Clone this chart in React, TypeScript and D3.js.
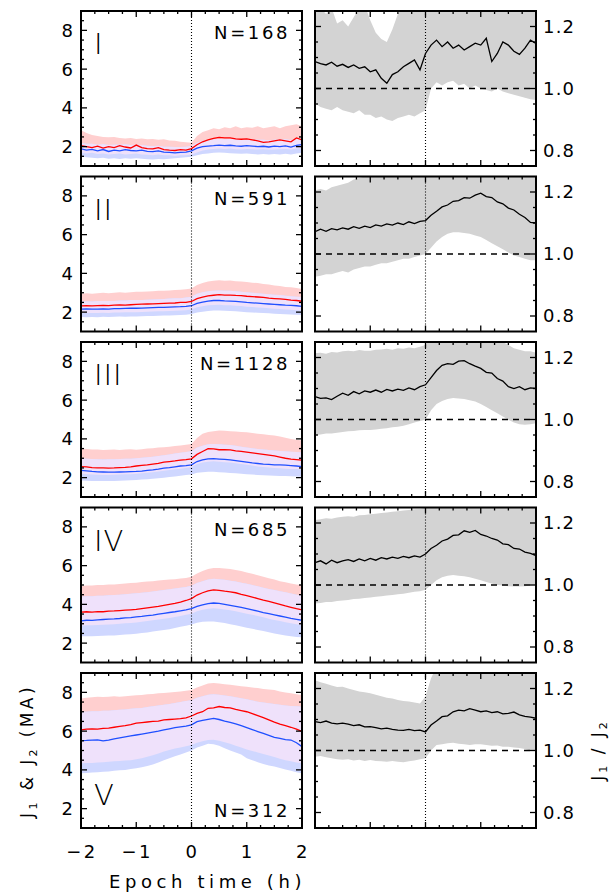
import React from 'react';
import * as d3 from 'd3';

// time axis (hours), 0.1 h steps from -2 to 2
const times = d3.range(41).map((i) => -2 + i * 0.1);
const panelLabels = ['I', 'II', 'III', 'IV', 'V'];
const panelCounts = [168, 591, 1128, 685, 312];
const xTickLabels = ['\u22122', '\u22121', '0', '1', '2'];
const xTickValues = [-2, -1, 0, 1, 2];
const jTickValues = [2, 4, 6, 8];
const rTickValues = [0.8, 1.0, 1.2];
const rTickLabels = ['0.8', '1.0', '1.2'];

// ---------- Panel I ----------
const j1_I = [2.05,2.0,1.95,2.02,1.92,2.0,1.95,2.05,1.98,1.93,2.08,1.95,1.9,1.88,1.95,1.85,1.82,1.8,1.85,1.82,1.9,2.1,2.25,2.35,2.42,2.48,2.45,2.45,2.4,2.38,2.4,2.35,2.3,2.22,2.25,2.3,2.35,2.3,2.25,2.45,2.35];
const j2_I = [1.88,1.82,1.86,1.78,1.85,1.75,1.82,1.78,1.84,1.8,1.78,1.82,1.76,1.74,1.78,1.72,1.7,1.68,1.7,1.72,1.78,1.92,2.0,2.03,2.05,2.08,2.05,2.07,2.04,2.02,2.05,2.03,2.0,2.02,1.98,2.03,2.0,2.04,1.98,2.06,2.1];
const j1Hi_I = [2.85,2.7,2.6,2.55,2.5,2.48,2.5,2.45,2.42,2.45,2.4,2.42,2.38,2.4,2.35,2.38,2.32,2.3,2.25,2.22,2.2,2.55,2.75,2.85,2.95,2.9,3.0,2.95,3.05,2.95,3.0,2.98,3.05,2.95,3.0,3.05,2.95,3.05,3.1,3.15,3.05];
const j1Lo_I = [1.7,1.65,1.68,1.62,1.65,1.6,1.62,1.65,1.6,1.62,1.65,1.6,1.58,1.55,1.6,1.55,1.55,1.52,1.55,1.55,1.6,1.7,1.8,1.85,1.88,1.9,1.88,1.9,1.87,1.85,1.88,1.86,1.85,1.87,1.84,1.85,1.86,1.88,1.85,1.9,1.92];
const j2Hi_I = [2.2,2.15,2.15,2.1,2.12,2.08,2.1,2.1,2.12,2.08,2.1,2.08,2.05,2.02,2.05,2.0,2.0,1.98,1.98,2.0,2.05,2.2,2.3,2.35,2.38,2.4,2.38,2.4,2.38,2.35,2.38,2.36,2.35,2.36,2.33,2.35,2.35,2.38,2.34,2.4,2.42];
const j2Lo_I = [1.5,1.45,1.42,1.4,1.42,1.38,1.4,1.36,1.4,1.38,1.4,1.37,1.35,1.33,1.36,1.35,1.38,1.4,1.42,1.45,1.48,1.55,1.62,1.65,1.68,1.7,1.68,1.66,1.65,1.63,1.65,1.62,1.6,1.62,1.6,1.62,1.6,1.63,1.6,1.65,1.68];
const ratio_I = [1.087,1.08,1.076,1.085,1.072,1.078,1.068,1.076,1.065,1.07,1.054,1.06,1.033,1.017,1.045,1.054,1.07,1.081,1.092,1.06,1.113,1.14,1.156,1.135,1.15,1.13,1.14,1.124,1.135,1.146,1.14,1.162,1.087,1.113,1.15,1.14,1.12,1.11,1.13,1.156,1.145];
const ratioHi_I = [1.27,1.26,1.24,1.26,1.21,1.22,1.2,1.23,1.26,1.27,1.22,1.18,1.16,1.15,1.19,1.24,1.27,1.26,1.27,1.28,1.28,1.28,1.28,1.28,1.28,1.28,1.28,1.28,1.28,1.28,1.28,1.28,1.28,1.28,1.28,1.28,1.28,1.28,1.28,1.28,1.28];
const ratioLo_I = [0.952,0.94,0.935,0.93,0.94,0.93,0.925,0.92,0.93,0.915,0.915,0.905,0.91,0.9,0.895,0.905,0.91,0.915,0.91,0.92,0.93,1.0,1.02,1.01,1.02,1.025,1.01,1.015,1.0,1.01,1.0,0.995,0.99,1.0,0.99,0.985,0.98,0.975,0.97,0.965,0.963];

// ---------- Panel II ----------
const j1_II = [2.32,2.33,2.32,2.34,2.35,2.34,2.36,2.37,2.36,2.38,2.4,2.41,2.42,2.43,2.44,2.45,2.46,2.47,2.5,2.5,2.55,2.7,2.78,2.84,2.87,2.9,2.88,2.88,2.86,2.85,2.82,2.8,2.78,2.76,2.72,2.7,2.68,2.66,2.62,2.6,2.56];
const j2_II = [2.15,2.16,2.15,2.16,2.17,2.16,2.18,2.18,2.19,2.2,2.2,2.21,2.22,2.23,2.24,2.25,2.26,2.27,2.28,2.3,2.33,2.45,2.52,2.57,2.6,2.6,2.58,2.57,2.55,2.53,2.5,2.48,2.46,2.44,2.42,2.4,2.38,2.36,2.35,2.33,2.3];
const j1Hi_II = [2.95,2.97,2.95,2.98,3.0,2.98,3.0,3.02,3.0,3.03,3.05,3.05,3.07,3.08,3.1,3.1,3.12,3.14,3.15,3.18,3.22,3.4,3.5,3.58,3.62,3.65,3.62,3.63,3.6,3.58,3.55,3.52,3.5,3.45,3.42,3.38,3.35,3.3,3.28,3.25,3.2];
const j1Lo_II = [1.95,1.96,1.95,1.96,1.97,1.96,1.98,1.98,1.99,2.0,2.0,2.01,2.02,2.03,2.04,2.05,2.06,2.07,2.08,2.1,2.13,2.25,2.3,2.35,2.37,2.38,2.36,2.35,2.33,2.31,2.28,2.26,2.24,2.22,2.2,2.18,2.16,2.14,2.12,2.1,2.08];
const j2Hi_II = [2.55,2.56,2.55,2.57,2.58,2.57,2.58,2.6,2.6,2.62,2.62,2.63,2.64,2.65,2.66,2.68,2.7,2.71,2.72,2.75,2.8,2.95,3.02,3.08,3.1,3.12,3.1,3.1,3.08,3.05,3.02,3.0,2.98,2.95,2.92,2.9,2.88,2.85,2.82,2.8,2.78];
const j2Lo_II = [1.75,1.74,1.75,1.74,1.76,1.75,1.76,1.77,1.76,1.78,1.78,1.79,1.8,1.8,1.81,1.82,1.83,1.84,1.85,1.86,1.9,1.98,2.02,2.06,2.08,2.08,2.07,2.06,2.04,2.02,2.0,1.98,1.97,1.95,1.94,1.92,1.9,1.89,1.88,1.86,1.85];
const ratio_II = [1.072,1.08,1.073,1.082,1.078,1.084,1.08,1.088,1.083,1.09,1.085,1.094,1.09,1.097,1.093,1.1,1.095,1.104,1.098,1.105,1.108,1.125,1.138,1.152,1.158,1.17,1.172,1.182,1.18,1.19,1.196,1.185,1.182,1.168,1.162,1.148,1.142,1.128,1.118,1.102,1.1];
const ratioHi_II = [1.206,1.21,1.205,1.215,1.22,1.225,1.23,1.24,1.245,1.25,1.26,1.27,1.27,1.27,1.27,1.27,1.27,1.27,1.27,1.27,1.27,1.27,1.27,1.27,1.27,1.27,1.27,1.27,1.27,1.27,1.27,1.27,1.27,1.27,1.27,1.27,1.27,1.27,1.27,1.27,1.27];
const ratioLo_II = [0.927,0.93,0.935,0.935,0.94,0.945,0.94,0.95,0.955,0.96,0.96,0.965,0.97,0.97,0.975,0.98,0.985,0.985,0.99,0.995,1.0,1.02,1.04,1.055,1.065,1.07,1.07,1.068,1.065,1.06,1.055,1.045,1.035,1.025,1.015,1.005,0.995,0.99,0.985,0.98,0.98];

// ---------- Panel III ----------
const j1_III = [2.57,2.55,2.52,2.5,2.5,2.49,2.5,2.52,2.53,2.55,2.6,2.63,2.66,2.7,2.73,2.8,2.83,2.86,2.9,2.93,2.97,3.2,3.35,3.49,3.48,3.44,3.45,3.43,3.38,3.35,3.32,3.28,3.24,3.2,3.16,3.12,3.06,3.0,2.96,2.93,2.9];
const j2_III = [2.37,2.35,2.32,2.3,2.29,2.28,2.28,2.29,2.3,2.31,2.32,2.34,2.37,2.4,2.44,2.49,2.52,2.56,2.6,2.62,2.66,2.83,2.92,2.97,2.98,2.96,2.94,2.92,2.88,2.84,2.8,2.76,2.73,2.7,2.68,2.66,2.66,2.64,2.62,2.6,2.57];
const j1Hi_III = [3.5,3.48,3.45,3.45,3.43,3.44,3.45,3.43,3.45,3.46,3.44,3.47,3.5,3.52,3.55,3.57,3.6,3.63,3.66,3.7,3.74,4.05,4.26,4.35,4.4,4.43,4.42,4.4,4.38,4.36,4.34,4.3,4.27,4.24,4.2,4.17,4.12,4.06,4.0,3.96,3.92];
const j1Lo_III = [2.2,2.18,2.16,2.15,2.14,2.14,2.15,2.16,2.17,2.18,2.2,2.22,2.25,2.28,2.32,2.36,2.4,2.43,2.46,2.5,2.55,2.7,2.78,2.82,2.84,2.82,2.8,2.78,2.74,2.7,2.66,2.62,2.58,2.55,2.52,2.5,2.48,2.46,2.45,2.44,2.42];
const j2Hi_III = [3.0,2.98,2.96,2.95,2.94,2.95,2.95,2.96,2.97,2.98,3.0,3.02,3.05,3.08,3.12,3.16,3.2,3.24,3.28,3.32,3.36,3.55,3.65,3.72,3.74,3.72,3.7,3.68,3.64,3.6,3.56,3.52,3.48,3.45,3.42,3.4,3.38,3.36,3.34,3.32,3.3];
const j2Lo_III = [1.85,1.84,1.83,1.82,1.82,1.82,1.83,1.84,1.85,1.86,1.88,1.9,1.92,1.94,1.97,2.0,2.03,2.06,2.1,2.13,2.16,2.25,2.28,2.3,2.3,2.28,2.26,2.24,2.22,2.2,2.18,2.16,2.14,2.12,2.11,2.1,2.09,2.08,2.07,2.06,2.05];
const ratio_III = [1.074,1.068,1.07,1.064,1.075,1.085,1.078,1.09,1.083,1.092,1.088,1.095,1.088,1.097,1.092,1.098,1.094,1.102,1.096,1.106,1.112,1.135,1.158,1.175,1.18,1.178,1.188,1.19,1.18,1.172,1.165,1.152,1.15,1.132,1.124,1.106,1.1,1.106,1.096,1.102,1.1];
const ratioHi_III = [1.214,1.215,1.212,1.218,1.216,1.22,1.222,1.22,1.224,1.222,1.222,1.225,1.226,1.228,1.225,1.23,1.228,1.232,1.23,1.235,1.24,1.27,1.27,1.27,1.27,1.27,1.27,1.27,1.27,1.27,1.27,1.27,1.27,1.26,1.25,1.24,1.23,1.225,1.22,1.22,1.215];
const ratioLo_III = [0.95,0.952,0.955,0.955,0.957,0.96,0.962,0.963,0.965,0.966,0.966,0.968,0.97,0.972,0.975,0.977,0.98,0.985,0.99,0.995,0.999,1.03,1.05,1.06,1.066,1.069,1.068,1.066,1.062,1.058,1.05,1.04,1.03,1.02,1.01,0.999,0.99,0.985,0.983,0.985,0.988];

// ---------- Panel IV ----------
const j1_IV = [3.6,3.62,3.6,3.63,3.62,3.65,3.66,3.68,3.7,3.72,3.74,3.78,3.82,3.86,3.9,3.95,4.0,4.05,4.12,4.2,4.3,4.48,4.6,4.7,4.75,4.72,4.68,4.65,4.6,4.52,4.45,4.38,4.3,4.22,4.15,4.08,4.0,3.92,3.85,3.78,3.72];
const j2_IV = [3.15,3.18,3.17,3.2,3.22,3.24,3.25,3.27,3.3,3.32,3.35,3.38,3.42,3.45,3.5,3.54,3.58,3.62,3.67,3.72,3.78,3.9,3.98,4.04,4.07,4.05,4.0,3.95,3.9,3.84,3.78,3.72,3.65,3.58,3.52,3.46,3.4,3.34,3.28,3.23,3.18];
const j1Hi_IV = [4.95,4.98,4.97,5.0,5.0,5.02,5.03,5.05,5.08,5.1,5.12,5.15,5.18,5.2,5.23,5.26,5.28,5.3,5.33,5.36,5.42,5.6,5.72,5.82,5.88,5.88,5.85,5.82,5.78,5.72,5.65,5.58,5.5,5.42,5.35,5.28,5.2,5.14,5.08,5.03,5.0];
const j1Lo_IV = [2.9,2.92,2.92,2.94,2.95,2.96,2.98,3.0,3.02,3.04,3.07,3.1,3.14,3.18,3.22,3.26,3.3,3.35,3.4,3.46,3.52,3.65,3.72,3.78,3.8,3.78,3.74,3.7,3.65,3.58,3.52,3.46,3.4,3.33,3.26,3.2,3.14,3.08,3.02,2.97,2.93];
const j2Hi_IV = [4.4,4.42,4.42,4.44,4.45,4.47,4.48,4.5,4.52,4.55,4.57,4.6,4.63,4.66,4.7,4.74,4.78,4.82,4.86,4.9,4.96,5.1,5.2,5.28,5.32,5.3,5.27,5.22,5.18,5.12,5.06,5.0,4.93,4.86,4.8,4.74,4.68,4.62,4.56,4.5,4.46];
const j2Lo_IV = [2.35,2.36,2.35,2.37,2.38,2.4,2.4,2.42,2.44,2.46,2.48,2.52,2.55,2.6,2.64,2.68,2.72,2.78,2.84,2.9,2.96,3.05,3.1,3.12,3.12,3.08,3.04,2.98,2.92,2.86,2.8,2.74,2.68,2.62,2.56,2.5,2.45,2.4,2.36,2.32,2.3];
const ratio_IV = [1.072,1.078,1.068,1.08,1.072,1.078,1.082,1.076,1.084,1.078,1.086,1.08,1.088,1.084,1.09,1.086,1.092,1.088,1.094,1.09,1.1,1.118,1.128,1.142,1.148,1.16,1.162,1.175,1.17,1.176,1.163,1.158,1.15,1.145,1.133,1.13,1.118,1.116,1.106,1.102,1.095];
const ratioHi_IV = [1.21,1.212,1.215,1.214,1.218,1.22,1.222,1.22,1.225,1.226,1.228,1.23,1.232,1.234,1.236,1.238,1.24,1.242,1.244,1.245,1.25,1.27,1.27,1.27,1.27,1.27,1.27,1.27,1.27,1.27,1.27,1.27,1.27,1.27,1.27,1.27,1.27,1.27,1.27,1.27,1.27];
const ratioLo_IV = [0.94,0.942,0.945,0.945,0.948,0.95,0.952,0.955,0.956,0.958,0.96,0.962,0.964,0.966,0.968,0.97,0.972,0.975,0.978,0.98,0.985,1.0,1.015,1.025,1.03,1.032,1.03,1.028,1.025,1.02,1.015,1.01,1.005,1.0,0.998,0.996,0.995,0.995,0.996,0.998,1.0];

// ---------- Panel V ----------
const j1_V = [6.06,6.1,6.12,6.1,6.14,6.15,6.2,6.24,6.28,6.33,6.41,6.44,6.47,6.5,6.52,6.58,6.6,6.62,6.64,6.68,6.78,6.92,7.0,7.18,7.2,7.27,7.22,7.2,7.12,7.06,7.0,6.9,6.8,6.7,6.58,6.46,6.36,6.28,6.2,6.1,5.98];
const j2_V = [5.51,5.52,5.54,5.55,5.5,5.54,5.6,5.65,5.7,5.75,5.8,5.85,5.9,5.95,6.0,6.06,6.12,6.18,6.22,6.26,6.32,6.49,6.55,6.61,6.66,6.6,6.52,6.45,6.38,6.28,6.18,6.08,5.98,5.88,5.78,5.68,5.62,5.56,5.54,5.4,5.2];
const j1Hi_V = [7.69,7.72,7.75,7.78,7.76,7.78,7.8,7.78,7.8,7.82,7.85,7.87,7.9,7.92,7.95,7.97,8.0,8.02,8.05,8.08,8.12,8.25,8.35,8.46,8.48,8.46,8.42,8.4,8.36,8.32,8.29,8.25,8.22,8.18,8.15,8.12,8.05,8.0,7.95,7.9,7.86];
const j1Lo_V = [4.34,4.35,4.36,4.38,4.4,4.42,4.44,4.46,4.48,4.5,4.55,4.6,4.68,4.76,4.85,4.95,5.02,5.1,5.16,5.22,5.28,5.4,5.48,5.54,5.55,5.5,5.42,5.35,5.25,5.15,5.05,4.98,4.9,4.82,4.74,4.66,4.58,4.5,4.44,4.38,4.34];
const j2Hi_V = [7.0,7.0,7.02,7.03,7.05,7.05,7.08,7.1,7.12,7.15,7.18,7.2,7.24,7.28,7.32,7.36,7.4,7.45,7.5,7.55,7.6,7.72,7.8,7.88,7.9,7.88,7.84,7.8,7.75,7.7,7.64,7.58,7.52,7.48,7.44,7.4,7.36,7.32,7.3,7.28,7.26];
const j2Lo_V = [3.82,3.84,3.86,3.88,3.9,3.92,3.95,3.98,4.0,4.04,4.08,4.14,4.2,4.28,4.38,4.5,4.6,4.7,4.8,4.9,5.0,5.15,5.25,5.35,5.32,5.25,5.12,5.0,4.9,4.8,4.6,4.5,4.4,4.3,4.22,4.17,4.1,4.02,3.95,3.88,3.82];
const ratio_V = [1.093,1.09,1.095,1.088,1.086,1.088,1.085,1.08,1.083,1.076,1.077,1.074,1.07,1.072,1.068,1.066,1.065,1.068,1.064,1.066,1.06,1.082,1.095,1.109,1.112,1.125,1.13,1.128,1.135,1.13,1.125,1.128,1.122,1.125,1.118,1.12,1.124,1.115,1.11,1.108,1.104];
const ratioHi_V = [1.227,1.22,1.215,1.21,1.205,1.206,1.2,1.195,1.19,1.188,1.185,1.18,1.175,1.17,1.168,1.163,1.16,1.158,1.155,1.152,1.174,1.233,1.27,1.27,1.27,1.27,1.27,1.27,1.27,1.27,1.27,1.27,1.27,1.27,1.27,1.27,1.27,1.27,1.27,1.27,1.27];
const ratioLo_V = [0.98,0.982,0.978,0.975,0.972,0.97,0.972,0.968,0.97,0.966,0.969,0.966,0.965,0.964,0.966,0.964,0.962,0.965,0.968,0.972,0.975,1.0,1.018,1.02,1.023,1.025,1.022,1.02,1.018,1.02,1.02,1.018,1.015,1.016,1.012,1.012,1.01,1.008,1.005,1.0,1.0];

const panels = [
  { j1: j1_I, j2: j2_I, j1Hi: j1Hi_I, j1Lo: j1Lo_I, j2Hi: j2Hi_I, j2Lo: j2Lo_I, r: ratio_I, rHi: ratioHi_I, rLo: ratioLo_I },
  { j1: j1_II, j2: j2_II, j1Hi: j1Hi_II, j1Lo: j1Lo_II, j2Hi: j2Hi_II, j2Lo: j2Lo_II, r: ratio_II, rHi: ratioHi_II, rLo: ratioLo_II },
  { j1: j1_III, j2: j2_III, j1Hi: j1Hi_III, j1Lo: j1Lo_III, j2Hi: j2Hi_III, j2Lo: j2Lo_III, r: ratio_III, rHi: ratioHi_III, rLo: ratioLo_III },
  { j1: j1_IV, j2: j2_IV, j1Hi: j1Hi_IV, j1Lo: j1Lo_IV, j2Hi: j2Hi_IV, j2Lo: j2Lo_IV, r: ratio_IV, rHi: ratioHi_IV, rLo: ratioLo_IV },
  { j1: j1_V, j2: j2_V, j1Hi: j1Hi_V, j1Lo: j1Lo_V, j2Hi: j2Hi_V, j2Lo: j2Lo_V, r: ratio_V, rHi: ratioHi_V, rLo: ratioLo_V },
];

// ---------- layout ----------
const W = 613;
const H = 892;
const LX0 = 81, LX1 = 302, RX0 = 315, RX1 = 536;
const TOP0 = 11, STEP = 165.5, PH = 155;
const FONT = "'DejaVu Sans', 'Liberation Sans', sans-serif";
const PINK = '#ffcfcf';
const LBLUE = '#cfd7ff';
const LAV = '#efe1fb';
const GRAY = '#d3d3d3';
const RED = '#ff0000';
const BLUE = '#1f4fff';

const xMinor = d3.range(-7, 8).map((i) => i * 0.25).filter((v) => Math.abs(v - Math.round(v)) > 1e-6);
const jMinor = d3.range(3, 18).map((i) => i * 0.5).filter((v) => !jTickValues.includes(v));
const rMinor = [0.85, 0.9, 0.95, 1.05, 1.1, 1.15];

function Ticks({ xs, ys, majorY, minorY, x0, x1, y0, y1 }: any) {
  const M = 6, m = 3;
  const els: any[] = [];
  [-1, 0, 1].forEach((v, i) => {
    const x = xs(v);
    els.push(<line key={'xt' + i} x1={x} x2={x} y1={y1} y2={y1 - M} />);
    els.push(<line key={'xtt' + i} x1={x} x2={x} y1={y0} y2={y0 + M} />);
  });
  xMinor.forEach((v, i) => {
    const x = xs(v);
    els.push(<line key={'xm' + i} x1={x} x2={x} y1={y1} y2={y1 - m} />);
    els.push(<line key={'xmt' + i} x1={x} x2={x} y1={y0} y2={y0 + m} />);
  });
  majorY.forEach((v: number, i: number) => {
    const y = ys(v);
    els.push(<line key={'yt' + i} x1={x0} x2={x0 + M} y1={y} y2={y} />);
    els.push(<line key={'ytr' + i} x1={x1} x2={x1 - M} y1={y} y2={y} />);
  });
  minorY.forEach((v: number, i: number) => {
    const y = ys(v);
    els.push(<line key={'ym' + i} x1={x0} x2={x0 + m} y1={y} y2={y} />);
    els.push(<line key={'ymr' + i} x1={x1} x2={x1 - m} y1={y} y2={y} />);
  });
  return <g stroke="#000" strokeWidth={1.3}>{els}</g>;
}

export default function App() {
  const xL = d3.scaleLinear().domain([-2, 2]).range([LX0, LX1]);
  const xR = d3.scaleLinear().domain([-2, 2]).range([RX0, RX1]);

  return (
    <svg width={W} height={H} style={{ position: 'absolute', left: 0, top: 0, background: '#fff' }} fontFamily={FONT}>
      <defs>
        {panels.map((_, i) => {
          const top = TOP0 + i * STEP;
          return (
            <React.Fragment key={i}>
              <clipPath id={'cl' + i}><rect x={LX0} y={top} width={LX1 - LX0} height={PH} /></clipPath>
              <clipPath id={'cr' + i}><rect x={RX0} y={top} width={RX1 - RX0} height={PH} /></clipPath>
            </React.Fragment>
          );
        })}
      </defs>
      {panels.map((p, i) => {
        const top = TOP0 + i * STEP;
        const bot = top + PH;
        const yJ = d3.scaleLinear().domain([1, 9]).range([bot, top]);
        const yR = d3.scaleLinear().domain([0.75, 1.25]).range([bot, top]);
        const idx = times.map((_, k) => k);
        const band = (lo: number[], hi: number[], xs: any, ys: any) =>
          d3.area<number>().x((k) => xs(times[k])).y0((k) => ys(lo[k])).y1((k) => ys(hi[k]))(idx) || '';
        const overlapLo = idx.map((k) => Math.max(p.j1Lo[k], p.j2Lo[k]));
        const overlapHi = idx.map((k) => Math.max(overlapLo[k], Math.min(p.j1Hi[k], p.j2Hi[k])));
        const line = (vals: number[], xs: any, ys: any) =>
          d3.line<number>().x((k) => xs(times[k])).y((k) => ys(vals[k]))(idx) || '';
        const isLast = i === panels.length - 1;
        return (
          <g key={i}>
            {/* left panel */}
            <g clipPath={`url(#cl${i})`}>
              <path d={band(p.j1Lo, p.j1Hi, xL, yJ)} fill={PINK} />
              <path d={band(p.j2Lo, p.j2Hi, xL, yJ)} fill={LBLUE} />
              <path d={band(overlapLo, overlapHi, xL, yJ)} fill={LAV} />
              <path d={line(p.j1, xL, yJ)} fill="none" stroke={RED} strokeWidth={1.3} />
              <path d={line(p.j2, xL, yJ)} fill="none" stroke={BLUE} strokeWidth={1.3} />
            </g>
            <line x1={xL(0)} x2={xL(0)} y1={top} y2={bot} stroke="#000" strokeWidth={1.1} strokeDasharray="1,2" />
            <Ticks xs={xL} ys={yJ} majorY={jTickValues} minorY={jMinor} x0={LX0} x1={LX1} y0={top} y1={bot} />
            <rect x={LX0} y={top} width={LX1 - LX0} height={PH} fill="none" stroke="#000" strokeWidth={2} />
            {jTickValues.map((v) => (
              <text key={v} x={LX0 - 8} y={yJ(v)} dy="0.36em" textAnchor="end" fontSize={18}>{v}</text>
            ))}
            <text x={LX0 + 13} y={isLast ? top + 132 : top + 43} fontSize={29} fontWeight={200} letterSpacing={1}>{panelLabels[i]}</text>
            <text x={LX1 - 12} y={isLast ? top + 144 : top + 28} textAnchor="end" fontSize={18} letterSpacing={2.6}>{'N=' + panelCounts[i]}</text>

            {/* right panel */}
            <g clipPath={`url(#cr${i})`}>
              <path d={band(p.rLo, p.rHi, xR, yR)} fill={GRAY} />
              <line x1={RX0} x2={RX1} y1={yR(1)} y2={yR(1)} stroke="#000" strokeWidth={1.3} strokeDasharray="6,5" />
              <path d={line(p.r, xR, yR)} fill="none" stroke="#000" strokeWidth={1.3} />
            </g>
            <line x1={xR(0)} x2={xR(0)} y1={top} y2={bot} stroke="#000" strokeWidth={1.1} strokeDasharray="1,2" />
            <Ticks xs={xR} ys={yR} majorY={rTickValues} minorY={rMinor} x0={RX0} x1={RX1} y0={top} y1={bot} />
            <rect x={RX0} y={top} width={RX1 - RX0} height={PH} fill="none" stroke="#000" strokeWidth={2} />
            {rTickValues.map((v, k) => (
              <text key={v} x={RX1 + 7} y={yR(v)} dy="0.36em" fontSize={18} letterSpacing={1.2}>{rTickLabels[k]}</text>
            ))}
          </g>
        );
      })}
      {/* x axis labels on bottom left panel */}
      {xTickValues.map((v, k) => (
        <text key={v} x={xL(v) + 1} y={858} textAnchor="middle" fontSize={18} letterSpacing={2.5}>{xTickLabels[k]}</text>
      ))}
      <text x={(LX0 + LX1) / 2 + 16} y={888} textAnchor="middle" fontSize={18} letterSpacing={4.6}>Epoch time (h)</text>
      {/* y labels */}
      <text transform="translate(33,751) rotate(-90)" textAnchor="middle" fontSize={17} letterSpacing={3.4}>
        J<tspan fontSize={11} dy={4}>1</tspan><tspan dy={-4}> &amp; J</tspan><tspan fontSize={11} dy={4}>2</tspan><tspan dy={-4}> (MA)</tspan>
      </text>
      <text transform="translate(604,750) rotate(-90)" textAnchor="middle" fontSize={17} letterSpacing={3}>
        J<tspan fontSize={11} dy={3}>1</tspan><tspan dy={-3}> / J</tspan><tspan fontSize={11} dy={3}>2</tspan>
      </text>
    </svg>
  );
}
